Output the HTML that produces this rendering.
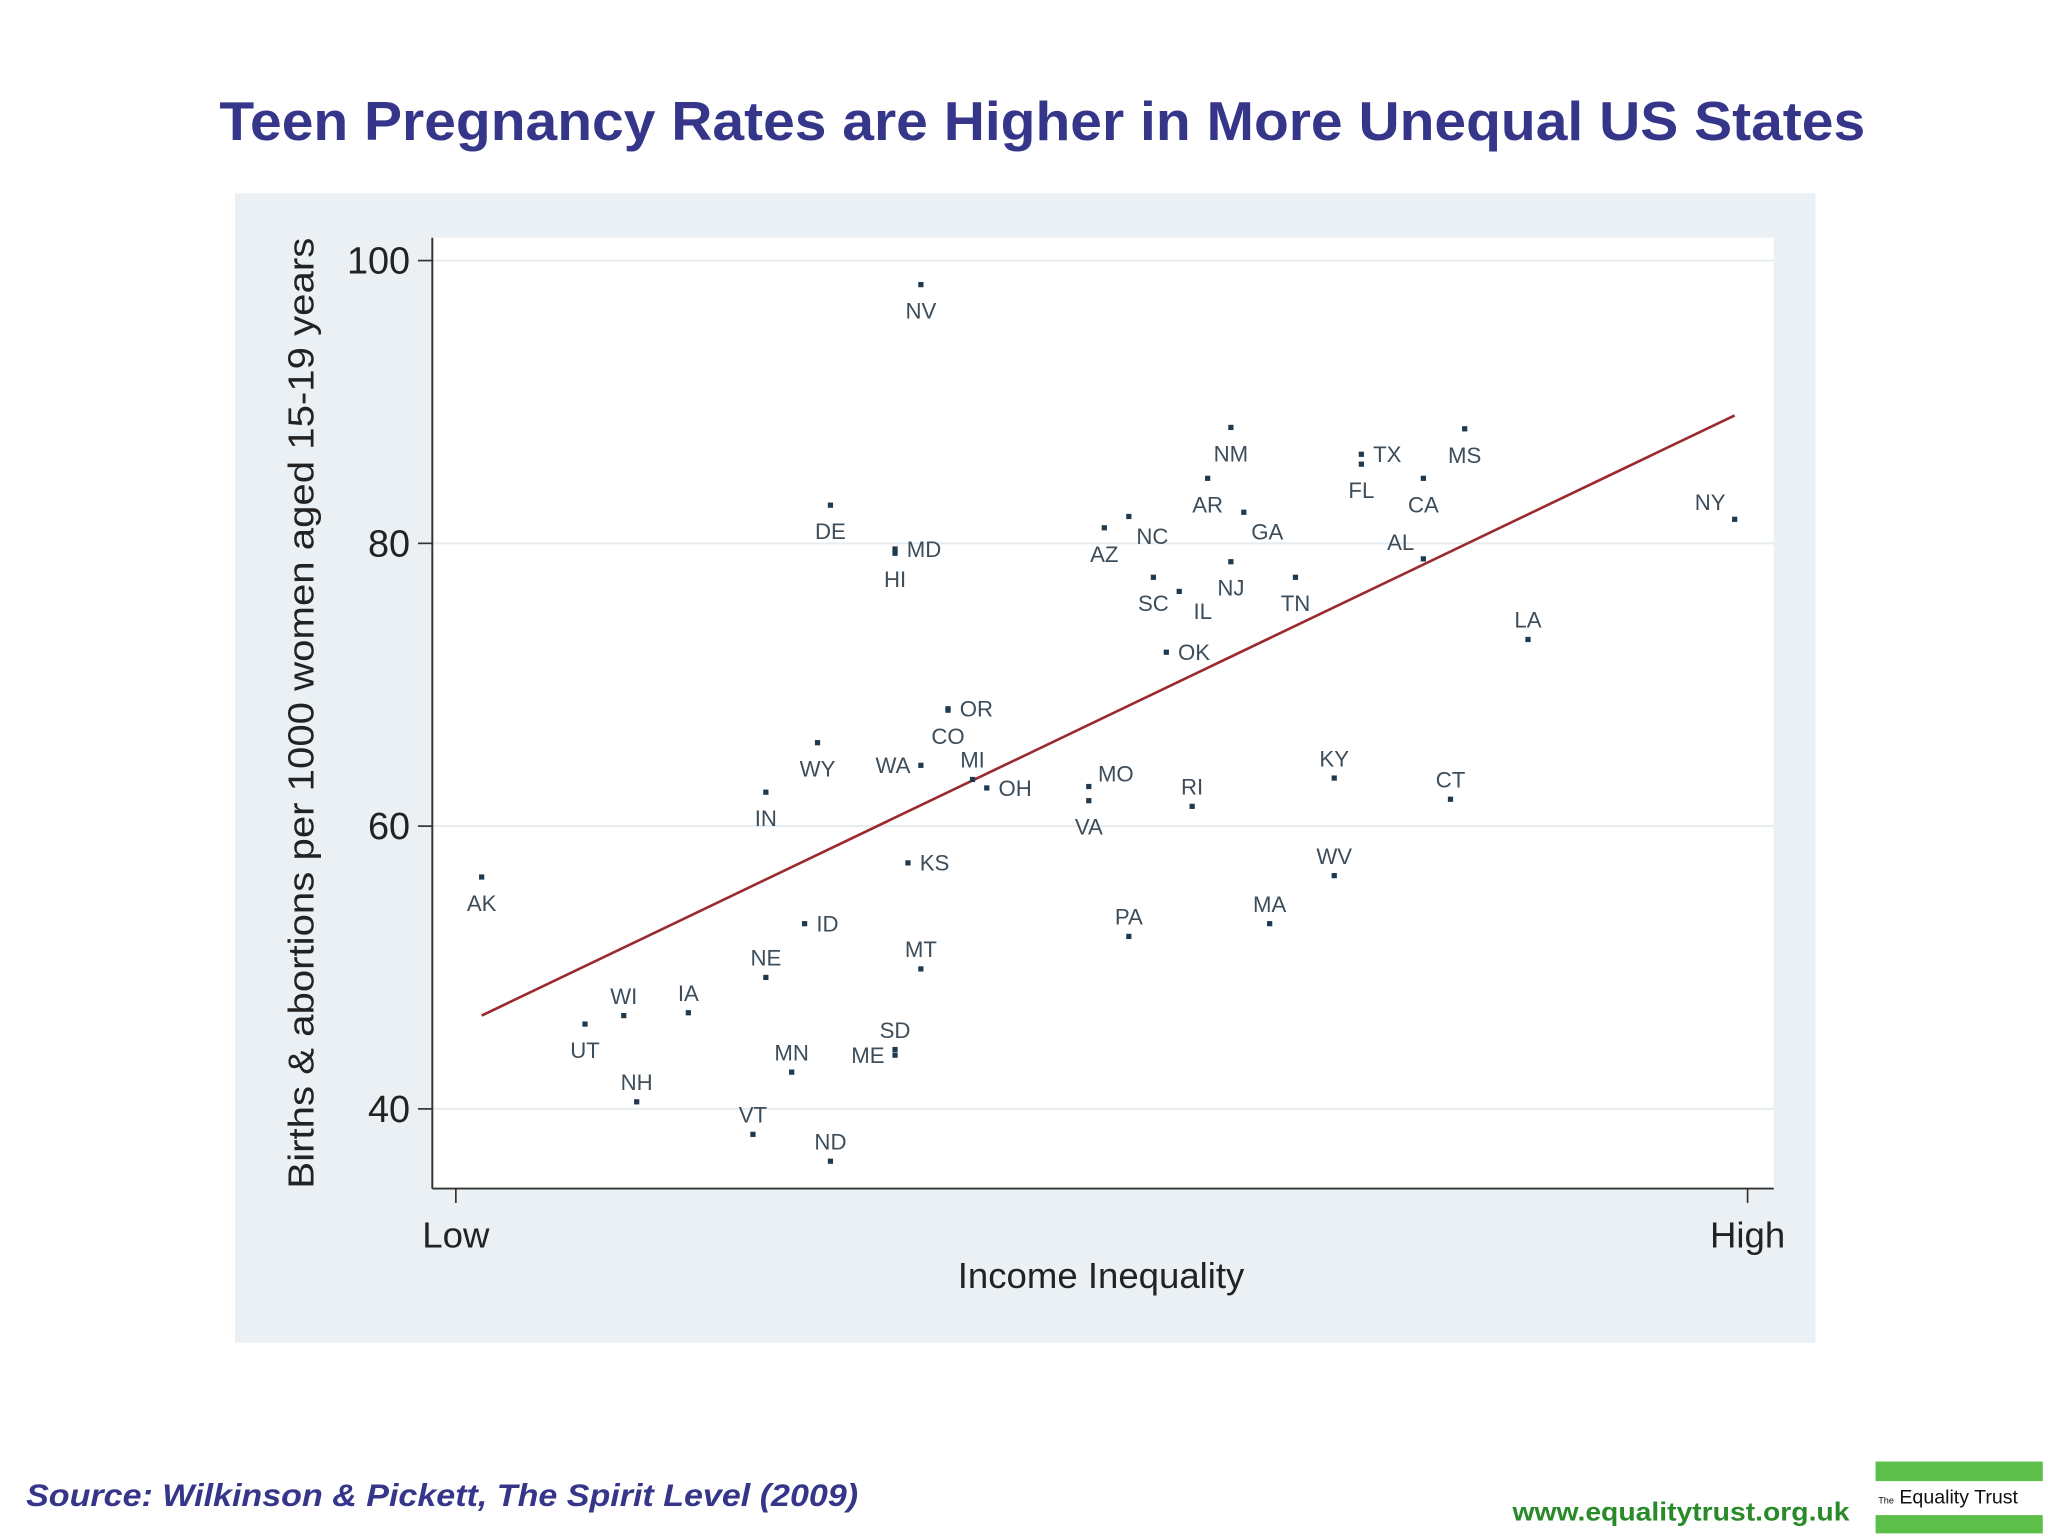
<!DOCTYPE html>
<html><head><meta charset="utf-8"><style>
html,body{margin:0;padding:0;background:#fff;}
svg{display:block;}
text{font-family:"Liberation Sans",Arial,sans-serif;}
</style></head><body>
<svg id="chart" width="2048" height="1536" viewBox="0 0 1568 1176" preserveAspectRatio="none" xmlns="http://www.w3.org/2000/svg">
<rect x="0" y="0" width="1568" height="1176" fill="#fff"/>
<text x="168" y="107" textLength="1260" lengthAdjust="spacingAndGlyphs" font-size="42" font-weight="bold" fill="#35358a">Teen Pregnancy Rates are Higher in More Unequal US States</text>
<rect x="180" y="148" width="1210" height="880" fill="#eaf0f3"/>
<rect x="331" y="182" width="1027" height="728" fill="#fff"/>
<g id="grid"></g>
<g id="axes"></g>
<g id="fit"></g>
<g id="points"></g>
<text transform="translate(240,910) rotate(-90)" textLength="728" lengthAdjust="spacingAndGlyphs" font-size="28" fill="#222">Births &amp; abortions per 1000 women aged 15-19 years</text>
<text x="843" y="986" text-anchor="middle" font-size="28" fill="#222">Income Inequality</text>
<text x="20" y="1153" textLength="637" lengthAdjust="spacingAndGlyphs" font-size="24" font-style="italic" font-weight="bold" fill="#35358a">Source: Wilkinson &amp; Pickett, The Spirit Level (2009)</text>
<text x="1158" y="1164" textLength="258" lengthAdjust="spacingAndGlyphs" font-size="20" font-weight="bold" fill="#2a8a2a">www.equalitytrust.org.uk</text>
<g>
<rect x="1436" y="1119" width="128" height="15" fill="#5cbf4a"/>
<rect x="1436" y="1160" width="128" height="14" fill="#5cbf4a"/>
<text x="1438" y="1151" font-size="15" fill="#111"><tspan font-size="7">The</tspan> Equality Trust</text>
</g>
</svg>
<script>
const states = ["AK","NV","NM","TX","FL","MS","CA","NY","AR","GA","NC","AZ","DE","MD","HI","AL","NJ","SC","TN","IL","LA","OK","OR","CO","WY","MI","OH","WA","IN","MO","VA","RI","KY","CT","KS","WV","ID","PA","MA","NE","MT","UT","WI","IA","SD","ME","MN","NH","VT","ND"];
const inequality = [2,36,60,70.1,70.1,78.1,74.9,99,58.2,61,52.1,50.2,29,34,34,74.9,60,54,65,56,83,55,38.1,38.1,28,40,41.1,36,24,49,49,57,68,77,35,68,27,52.1,63,24,36,10,13,18,34,34,26,14,23,29];
const teenRate = [56.4,98.3,88.2,86.3,85.6,88.1,84.6,81.7,84.6,82.2,81.9,81.1,82.7,79.6,79.3,78.9,78.7,77.6,77.6,76.6,73.2,72.3,68.3,68.2,65.9,63.3,62.7,64.3,62.4,62.8,61.8,61.4,63.4,61.9,57.4,56.5,53.1,52.2,53.1,49.3,49.9,46,46.6,46.8,44.2,43.8,42.6,40.5,38.2,36.3];
const labelPos = ["b","b","b","r","b","b","b","tl","b","br","br","b","b","r","b","tl","b","b","b","br","a","r","r","b","b","a","r","l","b","tr","b","a","a","a","r","a","r","a","a","a","a","b","a","a","a","l","a","a","a","a"];
const yTicks = [40,60,80,100];
const xTickVals = [0,100];
const xTickLabels = ["Low","High"];
const fitX = [2,99];
const fitY = [46.6,89.05];

const NS="http://www.w3.org/2000/svg";
function X(v){return 349+v*9.89;}
function Y(v){return 849-(v-40)*10.825;}
function mk(tag,attrs,parent){const e=document.createElementNS(NS,tag);for(const k in attrs)e.setAttribute(k,attrs[k]);parent.appendChild(e);return e;}
const grid=document.getElementById('grid'),axes=document.getElementById('axes'),fit=document.getElementById('fit'),pts=document.getElementById('points');
yTicks.forEach(t=>{
  const g=mk('line',{x1:331,x2:1358,y1:Y(t),y2:Y(t),stroke:'#e6ecef','stroke-width':1.5},grid);
  
  
  const tk=mk('line',{x1:320,x2:331,y1:Y(t),y2:Y(t),stroke:'#333','stroke-width':1.3},axes);
  
  
  const tl=mk('text',{x:314,y:Y(t)+10,'text-anchor':'end','font-size':29,fill:'#222'},axes);
  tl.textContent=t;
  
  
});
const ya=mk('line',{x1:331,x2:331,y1:182,y2:910,stroke:'#333','stroke-width':1.5},axes);


const xa=mk('line',{x1:331,x2:1358,y1:910,y2:910,stroke:'#333','stroke-width':1.5},axes);


xTickVals.forEach((v,i)=>{
  const tk=mk('line',{x1:X(v),x2:X(v),y1:910,y2:921,stroke:'#333','stroke-width':1.3},axes);
  
  
  const tl=mk('text',{x:X(v),y:955,'text-anchor':'middle','font-size':28,fill:'#222'},axes);
  tl.textContent=xTickLabels[i];
  
  
});
const fl=mk('line',{x1:X(fitX[0]),y1:Y(fitY[0]),x2:X(fitX[1]),y2:Y(fitY[1]),stroke:'#9b2a2f','stroke-width':2},fit);


states.forEach((s,i)=>{
  const cx=X(inequality[i]),cy=Y(teenRate[i]);
  const d=mk('rect',{x:cx-2,y:cy-2,width:4,height:4,fill:'#1f3a4f'},pts);
  
  
  let lx=cx,ly=cy,anc='middle';
  const p=labelPos[i];
  if(p==='b'){ly=cy+26;}
  else if(p==='a'){ly=cy-9;}
  else if(p==='r'){lx=cx+9;ly=cy+6;anc='start';}
  else if(p==='l'){lx=cx-8;ly=cy+6;anc='end';}
  else if(p==='br'){lx=cx+18;ly=cy+21;}
  else if(p==='tr'){lx=cx+7;ly=cy-4;anc='start';}
  else if(p==='tl'){lx=cx-7;ly=cy-7;anc='end';}
  const t=mk('text',{x:lx,y:ly,'text-anchor':anc,'font-size':17,fill:'#3d4d5a'},pts);
  t.textContent=s;
  
  
});
</script>
</body></html>
